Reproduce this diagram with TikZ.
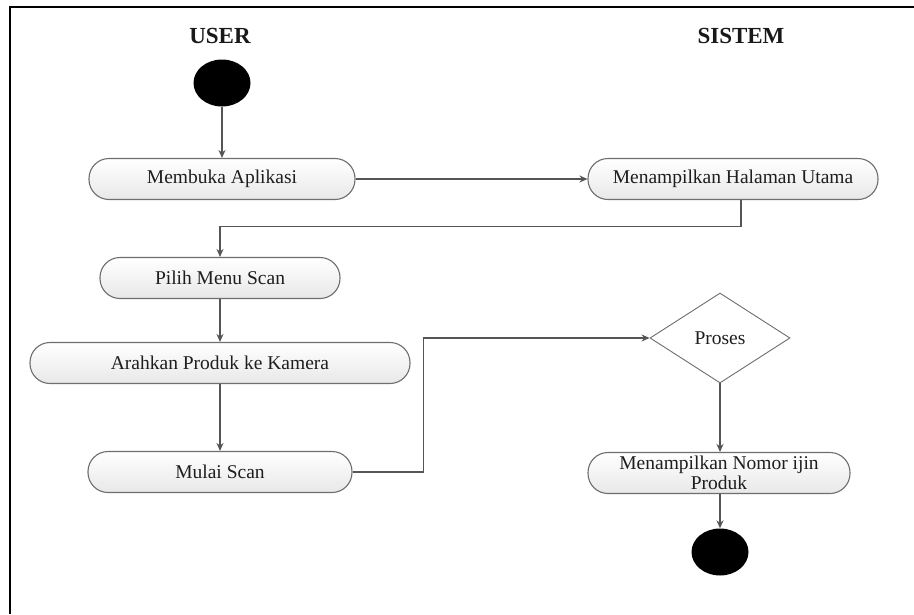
\documentclass[tikz,border=0pt]{standalone}
\usepackage{fontspec}
\setmainfont{Liberation Serif}
\usetikzlibrary{arrows.meta,shapes.geometric,calc}
\definecolor{lnc}{HTML}{555555}
\definecolor{bdc}{HTML}{6E6E6E}
\definecolor{txc}{HTML}{1E1E1E}
\tikzset{
  actbox/.style={draw=bdc, line width=1.1pt, rounded corners=20pt, minimum height=41pt,
    top color=white, bottom color=black!9, text=txc, align=center, inner sep=0pt,
    font=\fontsize{19.5}{20.5}\selectfont},
  decbox/.style={draw=bdc, line width=0.9pt, diamond, aspect=1.556, minimum width=140pt,
    minimum height=90pt, fill=white, text=txc, inner sep=0pt,
    font=\fontsize{19.5}{20.5}\selectfont},
  dot/.style={ellipse, fill=black, draw=none, minimum width=57pt, minimum height=47pt, inner sep=0pt},
  lane/.style={font=\bfseries\fontsize{23}{25}\selectfont, text=black!90},
  flow/.style={draw=lnc, line width=1.1pt, -{Stealth[length=8pt,width=7pt]}},
}
\begin{document}
\begin{tikzpicture}[x=1pt,y=-1pt]
\useasboundingbox (0,0) rectangle (914,614);
\fill[white] (0,0) rectangle (914,614);
\coordinate (fb) at (10,614);
\coordinate (ftl) at (10,7);
\coordinate (ftr) at (914,7);
\draw[line width=2.2pt, black] (fb) -- (ftl) -- (ftr);

\node[lane] (user) at (220,36) {USER};
\node[lane] (sistem) at (741,36) {SISTEM};

\node[dot] (start) at (222,83) {};
\node[actbox, minimum width=266pt] (buka) at (222,179) {Membuka Aplikasi};
\node[actbox, minimum width=290pt] (utama) at (733,179) {Menampilkan Halaman Utama};
\node[actbox, minimum width=240pt] (pilih) at (220,278) {Pilih Menu Scan};
\node[actbox, minimum width=380pt] (arah) at (220,363) {Arahkan Produk ke Kamera};
\node[actbox, minimum width=264pt] (mulai) at (220,472) {Mulai Scan};
\node[decbox] (proses) at (720,338) {Proses};
\node[actbox, minimum width=262pt] (nomor) at (719,473) {Menampilkan Nomor ijin\\Produk};
\node[dot] (end) at (720,552) {};

\draw[flow] (start) -- (buka);
\draw[flow] (buka) -- (utama);
\draw[flow] ([xshift=8pt]utama.south) -- ++(0,26) -| (pilih.north);
\draw[flow] (pilih) -- (arah);
\draw[flow] (arah) -- (mulai);
\draw[flow] (mulai.east) -- ++(71,0) |- (proses.west);
\draw[flow] (proses.south) -- (nomor.north -| proses.south);
\draw[flow] (nomor.south -| end.north) -- (end.north);
\end{tikzpicture}
\end{document}
